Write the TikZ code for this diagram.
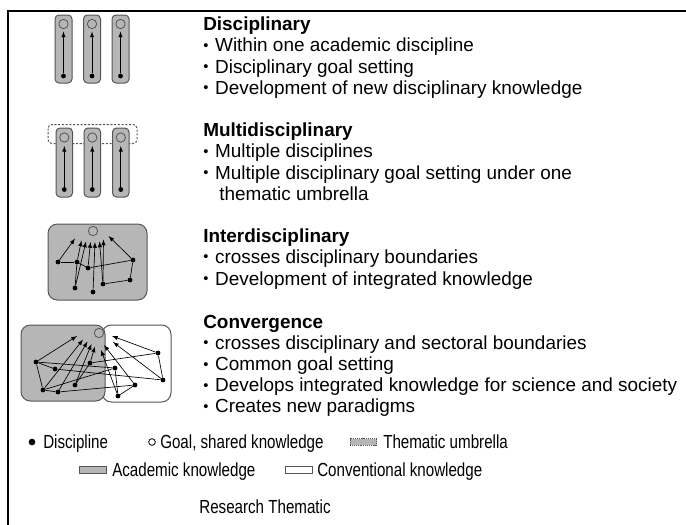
\documentclass[tikz,border=0pt]{standalone}
\usepackage{fontspec}
\setmainfont{Liberation Sans}
\usepackage{tikz}
\usetikzlibrary{patterns, positioning, arrows}
\definecolor{boxgray}{RGB}{182,182,182}
\definecolor{edgegray}{RGB}{85,85,85}
\newcommand{\itm}{\makebox[8.9pt][l]{\raisebox{1.2pt}{\fontsize{11}{11}\selectfont•}}}
\newcommand{\narrowtxt}[1]{\scalebox{0.8}[1]{#1}}

\begin{document}
\begin{tikzpicture}[x=0.75pt,y=-0.75pt,
    bar/.style={draw=edgegray,fill=boxgray,rounded corners=3pt,line width=0.75pt},
    field/.style={draw=edgegray,rounded corners=7pt,line width=0.75pt},
    disc/.style={circle,fill=black,inner sep=0pt,minimum size=3.6pt},
    goal/.style={circle,draw=edgegray,inner sep=0pt,minimum size=7pt,line width=0.6pt},
    link/.style={line width=0.5pt},
    flow/.style={line width=0.5pt,-latex},
    txt/.style={anchor=base west,inner sep=0pt,font=\fontsize{14.2}{16}\selectfont},
    head/.style={txt,font=\fontsize{14.2}{16}\selectfont\bfseries},
    keytxt/.style={anchor=base west,inner sep=0pt,font=\fontsize{14.2}{16}\selectfont},
    swatch/.style={draw=edgegray,line width=0.6pt,inner sep=0pt,minimum width=20pt,minimum height=5pt}]
        \useasboundingbox(0,0) rectangle (686,525);
        \draw[line width=1.1pt](686,11)--(8,11)--(8,525);

        \draw[bar](55,15) rectangle (72,83);
        \draw[bar](83.5,15) rectangle (100.5,83);
        \draw[bar](112,15) rectangle (129,83);
        \node[goal] (dg1) at (63.5,24) {};
        \node[goal] (dg2) at (92,24) {};
        \node[goal] (dg3) at (120.5,24) {};
        \node[disc] (dd1) at (63.5,76) {};
        \node[disc] (dd2) at (92,76) {};
        \node[disc] (dd3) at (120.5,76) {};
        \coordinate (dt1) at (63.5,31.5);
        \coordinate (dt2) at (92,31.5);
        \coordinate (dt3) at (120.5,31.5);
        \draw[flow](dd1)--(dt1);
        \draw[flow](dd2)--(dt2);
        \draw[flow](dd3)--(dt3);

        \draw[edgegray,line width=0.75pt,dash pattern=on 1.6pt off 1.2pt,rounded corners=3pt](48,124.5) rectangle (137,143.5);
        \draw[bar](56,128) rectangle (72.5,197);
        \draw[bar](84,128) rectangle (100.5,197);
        \draw[bar](112.5,128) rectangle (129,197);
        \node[goal] (mg1) at (64.3,137.5) {};
        \node[goal] (mg2) at (92.3,137.5) {};
        \node[goal] (mg3) at (120.8,137.5) {};
        \node[disc] (md1) at (64.3,189.5) {};
        \node[disc] (md2) at (92.3,189.5) {};
        \node[disc] (md3) at (120.8,189.5) {};
        \coordinate (mt1) at (64.3,146);
        \coordinate (mt2) at (92.3,146);
        \coordinate (mt3) at (120.8,146);
        \draw[flow](md1)--(mt1);
        \draw[flow](md2)--(mt2);
        \draw[flow](md3)--(mt3);

        \draw[field,fill=boxgray](48,224) rectangle (147,300);
        \node[goal] (igoal) at (93,231) {};
        \coordinate (it1) at (75,238.5);
        \coordinate (it2) at (81.5,240.5);
        \coordinate (it3) at (86,241.5);
        \coordinate (it4) at (90.5,242);
        \coordinate (it5) at (95,242);
        \coordinate (it6) at (99.5,241.5);
        \coordinate (it7) at (103.5,239.5);
        \coordinate (it8) at (108.5,236);
        \node[disc] (i1) at (58,262) {};
        \node[disc] (i2) at (77,262) {};
        \node[disc] (i3) at (88,268) {};
        \node[disc] (i4) at (133,260) {};
        \node[disc] (i5) at (130,280) {};
        \node[disc] (i6) at (103,284) {};
        \node[disc] (i7) at (75,288) {};
        \node[disc] (i8) at (93,292) {};
        \draw[flow](i1)--(it1);
        \draw[flow](i2)--(it2);
        \draw[flow](i7)--(it3);
        \draw[flow](i3)--(it4);
        \draw[flow](i8)--(it5);
        \draw[flow](i6)--(it6);
        \draw[flow](i6)--(it7);
        \draw[flow](i4)--(it8);
        \draw[link](i1)--(i2);
        \draw[link](i2)--(i3);
        \draw[link](i3)--(i4);
        \draw[link](i4)--(i5);
        \draw[link](i5)--(i6);
        \draw[link](i2)--(i7);

        \draw[field,fill=white](102,325) rectangle (171,402);
        \draw[field,fill=boxgray](21,325) rectangle (105,401);
        \node[goal] (cgoal) at (99,333) {};
        \coordinate (ct1) at (77,336);
        \coordinate (ct2) at (83,339.5);
        \coordinate (ct3) at (87.5,341.5);
        \coordinate (ct4) at (91.5,344);
        \coordinate (ct5) at (95,346.5);
        \coordinate (ct6) at (112,336);
        \coordinate (ct7) at (113,342);
        \coordinate (ct8) at (104,345);
        \coordinate (ct9) at (101,350);
        \node[disc] (c1) at (36,362) {};
        \node[disc] (c2) at (55,369) {};
        \node[disc] (c3) at (43,390) {};
        \node[disc] (c4) at (58,392) {};
        \node[disc] (c5) at (75,385) {};
        \node[disc] (c6) at (90,363) {};
        \node[disc] (c7) at (115,368) {};
        \node[disc] (c8) at (158,353) {};
        \node[disc] (c9) at (163,380) {};
        \node[disc] (c10) at (135,385) {};
        \node[disc] (c11) at (118,396) {};
        \draw[flow](c1)--(ct1);
        \draw[flow](c3)--(ct2);
        \draw[flow](c4)--(ct3);
        \draw[flow](c5)--(ct4);
        \draw[flow](c6)--(ct5);
        \draw[flow](c8)--(ct6);
        \draw[flow](c9)--(ct7);
        \draw[flow](c10)--(ct8);
        \draw[flow](c11)--(ct9);
        \draw[link](c1)--(c2);
        \draw[link](c1)--(c3);
        \draw[link](c3)--(c4);
        \draw[link](c1)--(c7);
        \draw[link](c2)--(c9);
        \draw[link](c6)--(c8);
        \draw[link](c4)--(c10);
        \draw[link](c5)--(c6);
        \draw[link](c8)--(c9);
        \draw[link](c10)--(c11);
        \draw[link](c7)--(c11);
        \draw[link](c3)--(c7);

        \node[head] (dhead) at (203,30) {Disciplinary};
        \node[txt] (dl1) at (203,51.7) {\itm Within one academic discipline};
        \node[txt] (dl2) at (203,73) {\itm Disciplinary goal setting};
        \node[txt] (dl3) at (203,94.3) {\itm Development of new disciplinary knowledge};

        \node[head] (mhead) at (203,136.7) {Multidisciplinary};
        \node[txt] (ml1) at (203,157.7) {\itm Multiple disciplines};
        \node[txt] (ml2) at (203,179.3) {\itm Multiple disciplinary goal setting under one};
        \node[txt] (ml3) at (219,200) {thematic umbrella};

        \node[head] (ihead) at (203,242.7) {Interdisciplinary};
        \node[txt] (il1) at (203,263.5) {\itm crosses disciplinary boundaries};
        \node[txt] (il2) at (203,285) {\itm Development of integrated knowledge};

        \node[head] (chead) at (203,328.3) {Convergence};
        \node[txt] (cl1) at (203,349.3) {\itm crosses disciplinary and sectoral boundaries};
        \node[txt] (cl2) at (203,370.7) {\itm Common goal setting};
        \node[txt] (cl3) at (203,391.7) {\itm Develops integrated knowledge for science and society};
        \node[txt] (cl4) at (203,412.7) {\itm Creates new paradigms};

        \node[disc,minimum size=5pt] (kdisc) at (32,442) {};
        \node[keytxt] (kdisctxt) at (43,448.5) {\narrowtxt{Discipline}};
        \node[goal,draw=black,minimum size=5pt] (kgoal) at (152,442) {};
        \node[keytxt] (kgoaltxt) at (160,448.5) {\narrowtxt{Goal, shared knowledge}};
        \node[swatch,fill=boxgray,dash pattern=on 0.8pt off 0.6pt] (kumb) at (363.5,442) {};
        \node[keytxt] (kumbtxt) at (383,448.5) {\narrowtxt{Thematic umbrella}};
        \node[swatch,fill=boxgray] (kacad) at (93,470) {};
        \node[keytxt] (kacadtxt) at (112,476.5) {\narrowtxt{Academic knowledge}};
        \node[swatch,fill=white] (kconv) at (299,470) {};
        \node[keytxt] (kconvtxt) at (317,476.5) {\narrowtxt{Conventional knowledge}};
        \node[keytxt,anchor=base] (title) at (265,513) {\narrowtxt{Research Thematic}};
    \end{tikzpicture}
\end{document}
